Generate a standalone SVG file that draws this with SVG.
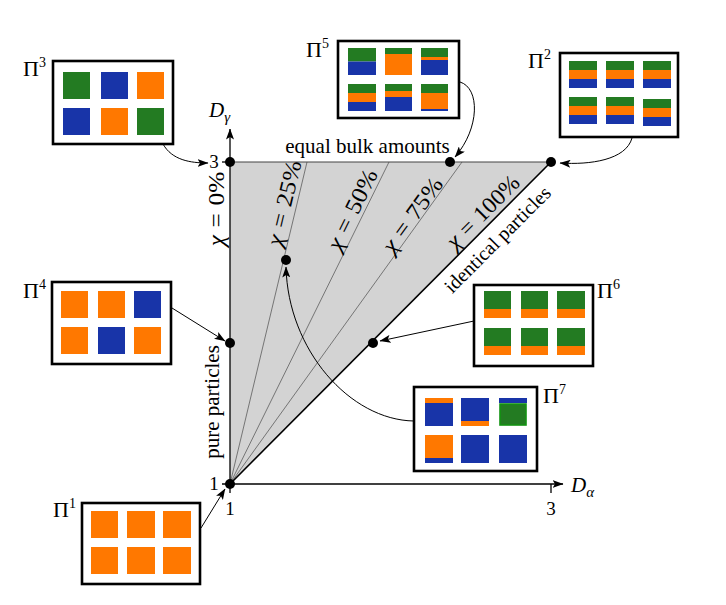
<svg xmlns="http://www.w3.org/2000/svg" width="726" height="605" viewBox="0 0 726 605">
<defs>
<style>
.t{font-family:"Liberation Serif","DejaVu Serif",serif;fill:#000}
.lbl{font-size:21px}
.chi{font-size:23px}
.pi{font-size:22px}
.sup{font-size:14px}
.it{font-style:italic}
.box{fill:#fff;stroke:#000;stroke-width:2.6}
.g{fill:#237b22}
.b{fill:#1834a8}
.o{fill:#ff7800}
.conn{fill:none;stroke:#000;stroke-width:1;marker-end:url(#ah)}
.axis{fill:none;stroke:#000;stroke-width:1.3}
.fan{fill:none;stroke:#6a6a6a;stroke-width:0.9}
.dot{fill:#000}
</style>
<marker id="ah" markerUnits="userSpaceOnUse" viewBox="0 0 11 8" markerWidth="11" markerHeight="8" refX="10.5" refY="4" orient="auto">
<path d="M0,0 L11,4 L0,8 L2.5,4 Z" fill="#000"/>
</marker>
</defs>
<rect width="726" height="605" fill="#fff"/>

<g id="region">
<polygon points="230,484 230,162 551,162" fill="#d3d3d3"/>
<line x1="230" y1="484" x2="307" y2="162" class="fan"/>
<line x1="230" y1="484" x2="389" y2="162" class="fan"/>
<line x1="230" y1="484" x2="462" y2="162" class="fan"/>
<line x1="230" y1="162" x2="551" y2="162" stroke="#444" stroke-width="1.2"/>
<line x1="230" y1="484" x2="551" y2="162" stroke="#000" stroke-width="1.6"/>
</g>

<g id="axes">
<line x1="230" y1="493" x2="230" y2="129" class="axis" marker-end="url(#ah)"/>
<line x1="222" y1="484" x2="563" y2="484" class="axis" marker-end="url(#ah)"/>
<line x1="222" y1="162" x2="230" y2="162" class="axis"/>
<line x1="551" y1="484" x2="551" y2="493" class="axis"/>
<text class="t it" x="209" y="117" font-size="21">D<tspan font-size="15" dy="5">γ</tspan></text>
<text class="t it" x="571" y="492" font-size="21">D<tspan font-size="15" dy="5">α</tspan></text>
<text class="t" x="214" y="168" font-size="19" text-anchor="middle">3</text>
<text class="t" x="214" y="490" font-size="19" text-anchor="middle">1</text>
<text class="t" x="230" y="515" font-size="19" text-anchor="middle">1</text>
<text class="t" x="551" y="515" font-size="19" text-anchor="middle">3</text>
</g>

<g id="labels">
<text class="t lbl" x="367.5" y="153" font-size="21.5" text-anchor="middle">equal bulk amounts</text>
<text class="t chi" text-anchor="middle" transform="translate(224,209) rotate(-90) scale(1.1,1)"><tspan class="it">χ</tspan><tspan dx="7">=</tspan><tspan dx="7">0%</tspan></text>
<text class="t chi" text-anchor="middle" transform="translate(291.5,205) rotate(-76.5) scale(1.1,1)"><tspan class="it">χ</tspan><tspan dx="7">=</tspan><tspan dx="7">25%</tspan></text>
<text class="t chi" text-anchor="middle" transform="translate(359,213) rotate(-63.7) scale(1.1,1)"><tspan class="it">χ</tspan><tspan dx="7">=</tspan><tspan dx="7">50%</tspan></text>
<text class="t chi" text-anchor="middle" transform="translate(418.5,219.5) rotate(-54.2) scale(1.1,1)"><tspan class="it">χ</tspan><tspan dx="7">=</tspan><tspan dx="7">75%</tspan></text>
<text class="t chi" text-anchor="middle" transform="translate(488.2,217.2) rotate(-45) scale(1.03,1)" fill="#3a3a4a"><tspan class="it">χ</tspan><tspan dx="7">=</tspan><tspan dx="7">100%</tspan></text>
<text class="t" font-size="20" text-anchor="middle" transform="translate(502.2,244.2) rotate(-45)">identical particles</text>
<text class="t lbl" text-anchor="middle" transform="translate(219,402) rotate(-90)">pure particles</text>
</g>

<g id="points">
<circle class="dot" cx="230" cy="162" r="5"/>
<circle class="dot" cx="551" cy="162" r="5"/>
<circle class="dot" cx="450" cy="162" r="5"/>
<circle class="dot" cx="230" cy="343" r="5"/>
<circle class="dot" cx="373" cy="343" r="5"/>
<circle class="dot" cx="286" cy="260" r="5"/>
<circle class="dot" cx="230" cy="484" r="5"/>
</g>

<g id="connectors">
<path class="conn" d="M163,144 C172,160 190,163 208,163"/>
<path class="conn" d="M460,82 C480,88 480,128 455,157"/>
<path class="conn" d="M632,138 C626,160 590,165 560,163"/>
<path class="conn" d="M172,308 L225,341"/>
<path class="conn" d="M474,321 L380,341"/>
<path class="conn" d="M414,421 C350,420 288,350 286,267"/>
<path class="conn" d="M201,528 L225,489"/>
</g>

<g id="pi3">
<text class="t pi" x="23" y="76">Π<tspan class="sup" dy="-9">3</tspan></text>
<rect class="box" x="53" y="61" width="120" height="83"/>
<rect class="g" x="63" y="72" width="27" height="27"/>
<rect class="b" x="101" y="72" width="27" height="27"/>
<rect class="o" x="137" y="72" width="27" height="27"/>
<rect class="b" x="63" y="108" width="27" height="27"/>
<rect class="o" x="101" y="108" width="27" height="27"/>
<rect class="g" x="137" y="108" width="27" height="27"/>
</g>

<g id="pi5">
<text class="t pi" x="306" y="57">Π<tspan class="sup" dy="-9">5</tspan></text>
<rect class="box" x="338" y="41" width="121" height="77"/>
<rect class="g" x="348" y="48" width="28" height="13.5"/><rect class="b" x="348" y="61.5" width="28" height="13.5"/>
<rect class="g" x="385" y="48" width="27" height="6"/><rect class="o" x="385" y="54" width="27" height="21"/>
<rect class="g" x="421" y="48" width="27" height="9"/><rect class="o" x="421" y="57" width="27" height="3"/><rect class="b" x="421" y="60" width="27" height="15"/>
<rect class="g" x="348" y="84" width="28" height="9"/><rect class="o" x="348" y="93" width="28" height="9"/><rect class="b" x="348" y="102" width="28" height="9"/>
<rect class="g" x="385" y="84" width="27" height="7"/><rect class="o" x="385" y="91" width="27" height="6"/><rect class="b" x="385" y="97" width="27" height="14"/>
<rect class="g" x="421" y="84" width="27" height="9"/><rect class="o" x="421" y="93" width="27" height="16"/><rect class="b" x="421" y="109" width="27" height="2"/>
</g>

<g id="pi2">
<text class="t pi" x="528" y="68">Π<tspan class="sup" dy="-9">2</tspan></text>
<rect class="box" x="560" y="53" width="118" height="84"/>
<g transform="translate(569,61)"><rect class="g" width="28" height="9"/><rect class="o" y="9" width="28" height="9"/><rect class="b" y="18" width="28" height="9"/></g>
<g transform="translate(606,61)"><rect class="g" width="28" height="9"/><rect class="o" y="9" width="28" height="9"/><rect class="b" y="18" width="28" height="9"/></g>
<g transform="translate(643,61)"><rect class="g" width="28" height="9"/><rect class="o" y="9" width="28" height="9"/><rect class="b" y="18" width="28" height="9"/></g>
<g transform="translate(569,97)"><rect class="g" width="28" height="9"/><rect class="o" y="9" width="28" height="9"/><rect class="b" y="18" width="28" height="9"/></g>
<g transform="translate(606,97)"><rect class="g" width="28" height="9"/><rect class="o" y="9" width="28" height="9"/><rect class="b" y="18" width="28" height="9"/></g>
<g transform="translate(643,99)"><rect class="g" width="28" height="9"/><rect class="o" y="9" width="28" height="9"/><rect class="b" y="18" width="28" height="9"/></g>
</g>

<g id="pi4">
<text class="t pi" x="23" y="298">Π<tspan class="sup" dy="-9">4</tspan></text>
<rect class="box" x="52" y="282" width="119" height="82"/>
<rect class="o" x="61" y="291" width="27" height="27"/>
<rect class="o" x="98" y="291" width="27" height="27"/>
<rect class="b" x="134" y="291" width="27" height="27"/>
<rect class="o" x="61" y="327" width="27" height="27"/>
<rect class="b" x="98" y="327" width="27" height="27"/>
<rect class="o" x="134" y="327" width="27" height="27"/>
</g>

<g id="pi6">
<text class="t pi" x="597" y="298">Π<tspan class="sup" dy="-9">6</tspan></text>
<rect class="box" x="474" y="285" width="119" height="81"/>
<g transform="translate(484,291)"><rect class="g" width="27" height="18"/><rect class="o" y="18" width="27" height="9"/></g>
<g transform="translate(521,291)"><rect class="g" width="27" height="18"/><rect class="o" y="18" width="27" height="9"/></g>
<g transform="translate(557,291)"><rect class="g" width="28" height="18"/><rect class="o" y="18" width="28" height="9"/></g>
<g transform="translate(484,328)"><rect class="g" width="27" height="18"/><rect class="o" y="18" width="27" height="9"/></g>
<g transform="translate(521,328)"><rect class="g" width="27" height="18"/><rect class="o" y="18" width="27" height="9"/></g>
<g transform="translate(557,328)"><rect class="g" width="28" height="18"/><rect class="o" y="18" width="28" height="9"/></g>
</g>

<g id="pi7">
<text class="t pi" x="543" y="403">Π<tspan class="sup" dy="-9">7</tspan></text>
<rect class="box" x="414" y="387" width="123" height="84"/>
<rect class="o" x="425" y="398" width="28" height="5"/><rect class="b" x="425" y="403" width="28" height="23"/>
<rect class="b" x="461" y="398" width="28" height="23"/><rect class="o" x="461" y="421" width="28" height="5"/>
<rect class="b" x="499" y="398" width="28" height="5"/><rect class="g" x="500" y="404" width="26" height="21" stroke="#129312" stroke-width="1.6"/>
<rect class="o" x="425" y="435" width="28" height="23"/><rect class="b" x="425" y="458" width="28" height="5"/>
<rect class="b" x="461" y="435" width="28" height="28"/>
<rect class="b" x="499" y="435" width="28" height="28"/>
</g>

<g id="pi1">
<text class="t pi" x="53" y="517">Π<tspan class="sup" dy="-9">1</tspan></text>
<rect class="box" x="82" y="503" width="118" height="81"/>
<rect class="o" x="91" y="511" width="27" height="27"/>
<rect class="o" x="127" y="511" width="28" height="27"/>
<rect class="o" x="163" y="511" width="28" height="27"/>
<rect class="o" x="91" y="547" width="27" height="27"/>
<rect class="o" x="127" y="547" width="28" height="27"/>
<rect class="o" x="163" y="547" width="28" height="27"/>
</g>
</svg>
